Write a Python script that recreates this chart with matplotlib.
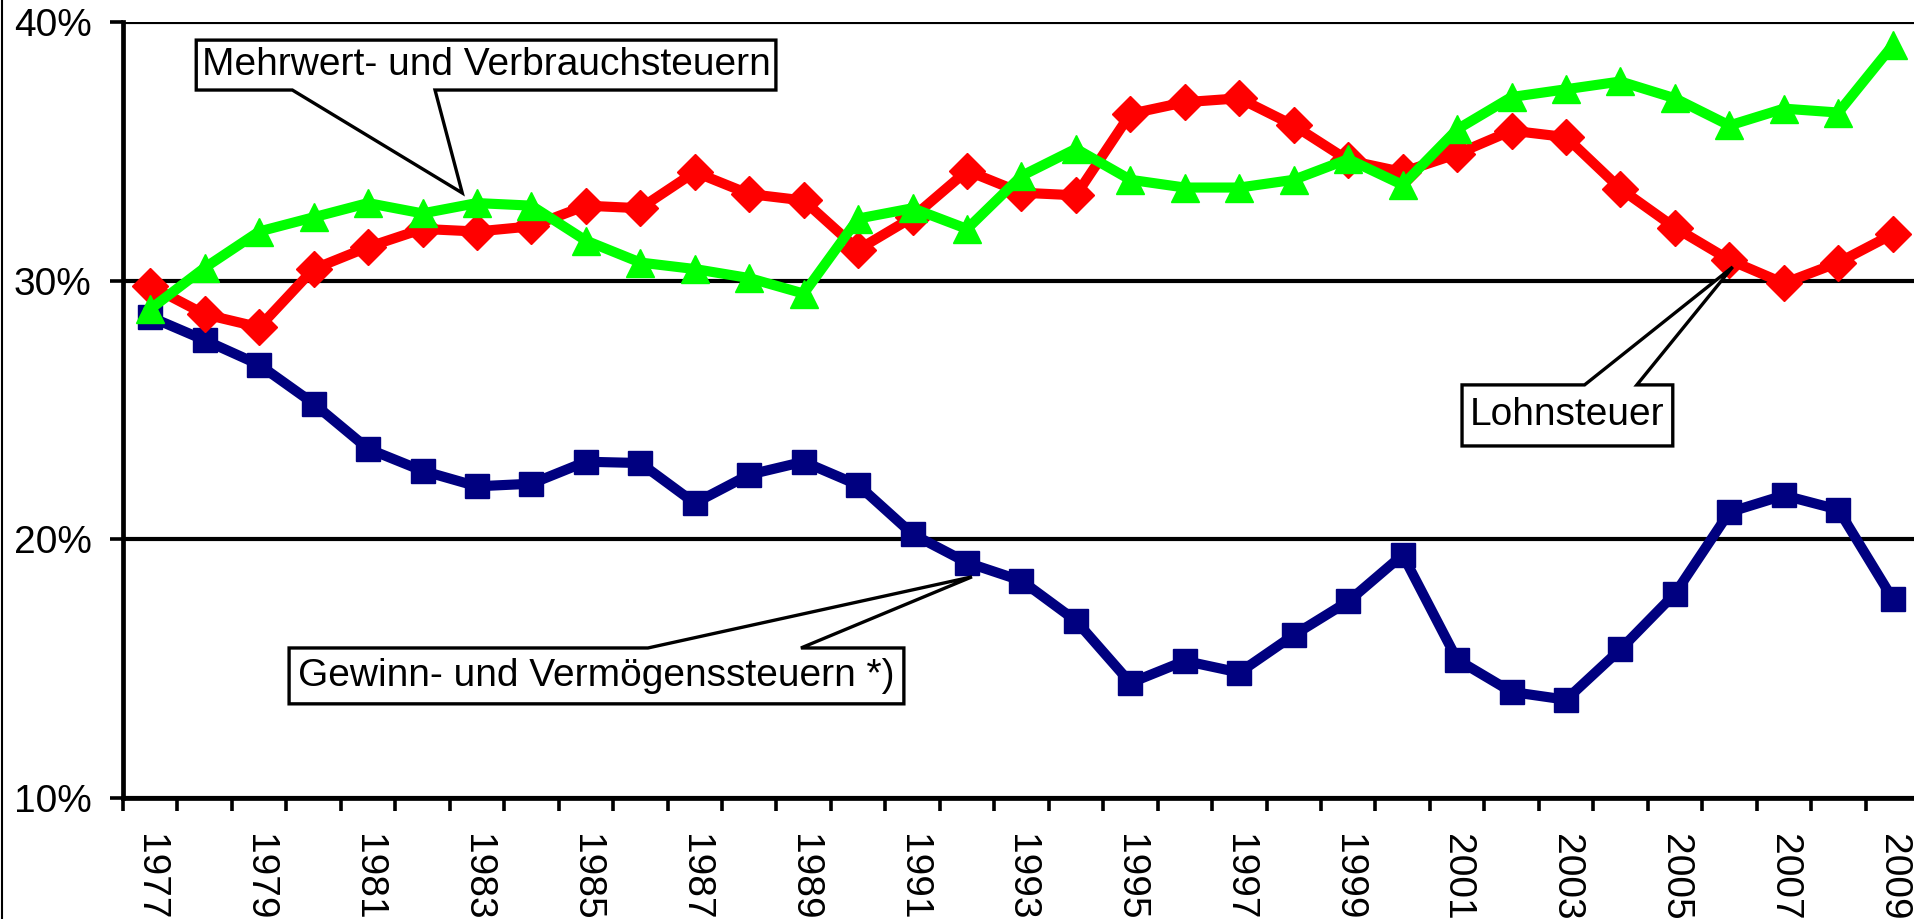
import matplotlib
matplotlib.use('Agg')
import matplotlib.pyplot as plt
from matplotlib import font_manager as fm
from matplotlib.patches import Polygon
from matplotlib.lines import Line2D
import numpy as np

# ---------------- data ----------------
years = list(range(1977, 2010))
lohnsteuer = [29.8, 28.7, 28.2, 30.45, 31.3, 32.0, 31.9, 32.1, 32.9, 32.8,
              34.2, 33.35, 33.1, 31.2, 32.45, 34.25, 33.4, 33.3, 36.45, 36.9,
              37.05, 36.0, 34.65, 34.2, 34.9, 35.8, 35.55, 33.55, 32.05, 30.8,
              29.9, 30.7, 31.8]
mehrwert = [28.9, 30.5, 31.9, 32.45, 33.0, 32.6, 33.0, 32.9, 31.55, 30.7,
            30.45, 30.1, 29.5, 32.4, 32.8, 32.0, 34.05, 35.1, 33.9, 33.6,
            33.6, 33.9, 34.7, 33.7, 35.85, 37.1, 37.4, 37.7, 37.05, 36.0,
            36.65, 36.5, 39.1]
gewinn = [28.6, 27.7, 26.75, 25.25, 23.5, 22.65, 22.05, 22.15, 23.0, 22.95,
          21.4, 22.5, 23.0, 22.1, 20.2, 19.1, 18.4, 16.85, 14.45, 15.3,
          14.85, 16.3, 17.6, 19.4, 15.35, 14.1, 13.8, 15.75, 17.9, 21.05,
          21.7, 21.15, 17.7]
y_ticks = [10, 20, 30, 40]
y_tick_labels = ['10%', '20%', '30%', '40%']
label_years = years[::2]
name_mwst = 'Mehrwert- und Verbrauchsteuern'
name_lohn = 'Lohnsteuer'
name_gew = 'Gewinn- und Vermögenssteuern *)'

plt.rcParams['font.family'] = ['Liberation Sans', 'DejaVu Sans']
FS = 28

fig = plt.figure(figsize=(19.14, 9.19), dpi=100)
ax = fig.add_axes([123 / 1914, 121 / 919, 1797 / 1914, 776 / 919])

x = np.arange(len(years))
LW = 7.3
ax.plot(x, gewinn, color='#000080', lw=LW, marker='s', ms=17.5, mec='#000080',
        mfc='#000080', solid_joinstyle='round', zorder=3)
ax.plot(x, lohnsteuer, color='#FF0000', lw=LW, marker='D', ms=18.5, mec='#FF0000',
        mfc='#FF0000', solid_joinstyle='round', zorder=4)
ax.plot(x, mehrwert, color='#00FF00', lw=LW, marker='^', ms=20.5, mec='#00FF00',
        mfc='#00FF00', solid_joinstyle='round', zorder=5)

ax.set_xlim(-0.5, len(years) - 0.5)
ax.set_ylim(10, 40)

# x axis: labels every other year, ticks at category boundaries
ax.set_xticks(x[::2])
ax.set_xticklabels([str(y) for y in label_years])
ax.tick_params(axis='x', which='major', length=0, pad=26, labelsize=FS)
for lbl in ax.get_xticklabels():
    lbl.set_rotation(-90)
    lbl.set_ha('center')
    lbl.set_va('top')
ax.set_xticks(np.arange(-0.5, len(years), 1), minor=True)
ax.tick_params(axis='x', which='minor', length=9.5, width=2.6, direction='out')

# y axis
ax.set_yticks(y_ticks)
ax.set_yticklabels(y_tick_labels)
ax.tick_params(axis='y', length=9.5, width=2.6, pad=13, labelsize=FS)
ax.yaxis.grid(True, color='black', lw=3.0)
ax.set_axisbelow(True)
for s in ['top', 'right']:
    ax.spines[s].set_visible(False)
for s in ['left', 'bottom']:
    ax.spines[s].set_linewidth(3.4)


def callout(x0, x1, y_lo, y_hi, edge, b1, b2, tip, text):
    if edge == 'bottom':
        verts = [(x0, y_hi), (x1, y_hi), (x1, y_lo), (b2, y_lo), tip,
                 (b1, y_lo), (x0, y_lo)]
    else:
        verts = [(x0, y_lo), (x1, y_lo), (x1, y_hi), (b2, y_hi), tip,
                 (b1, y_hi), (x0, y_hi)]
    poly = Polygon(verts, closed=True, facecolor='white', edgecolor='black',
                   lw=2.4, zorder=10, joinstyle='miter', clip_on=False)
    ax.add_patch(poly)
    ax.text((x0 + x1) / 2, (y_lo + y_hi) / 2, text, ha='center',
            va='center', fontsize=FS, zorder=11)


callout(0.845, 11.49, 37.37, 39.3, 'bottom', 2.61, 5.23, (5.73, 33.39), name_mwst)
callout(24.09, 27.96, 23.61, 25.97, 'top', 26.34, 27.30, (29.06, 30.53), name_lohn)
callout(2.55, 13.84, 13.64, 15.80, 'top', 9.14, 11.95, (15.09, 18.55), name_gew)

# thin chart-area border at the very left
fig.add_artist(Line2D([0.0008, 0.0008], [0, 1], transform=fig.transFigure,
                      color='black', lw=1.5))

fig.savefig('out.png', dpi=100)
